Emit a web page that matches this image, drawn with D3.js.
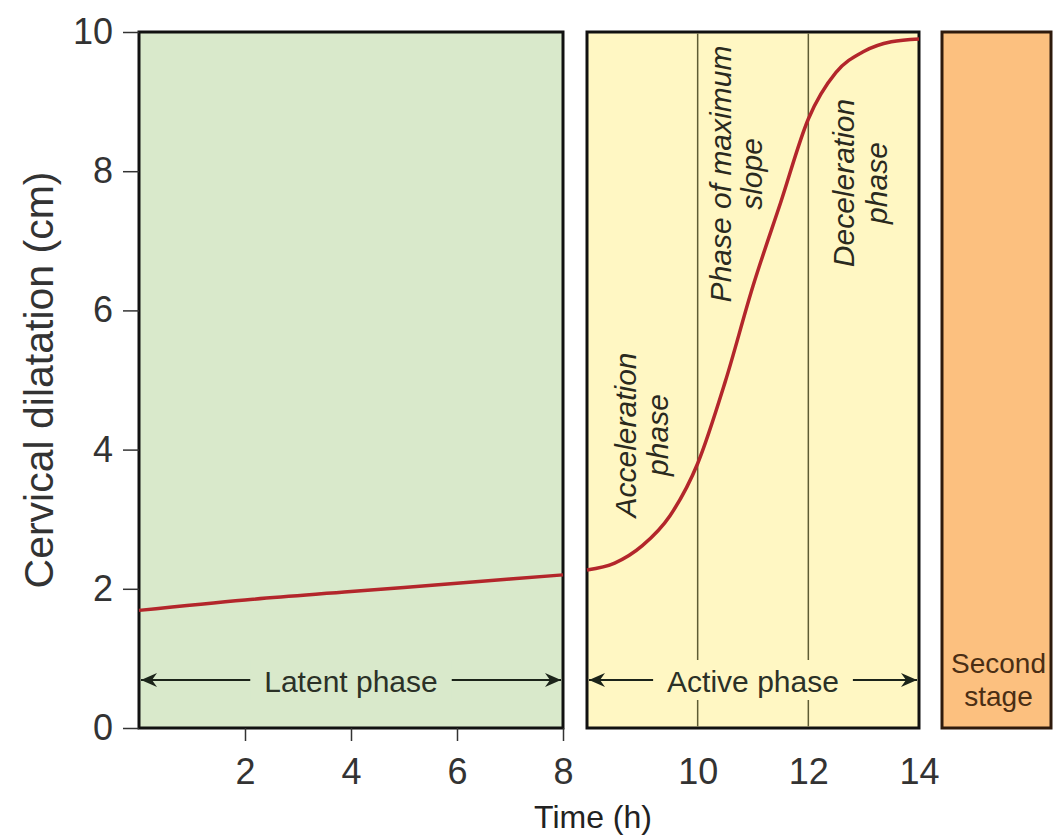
<!DOCTYPE html>
<html>
<head>
<meta charset="utf-8">
<script src="https://cdn.jsdelivr.net/npm/d3@7"></script>
<style>
  html, body { margin: 0; padding: 0; background: #fff; }
  svg { display: block; font-family: "Liberation Sans", Arial, Helvetica, sans-serif; }
</style>
</head>
<body>
<svg id="chart" width="1055" height="838"></svg>
<script>
// ---- data ----
const latentTime = [0, 2, 4, 6, 8];
const latentDilation = [1.69, 1.84, 1.96, 2.08, 2.20];
const activeTime = [8, 8.5, 9, 9.5, 10, 10.5, 11, 11.5, 12, 12.5, 13, 13.5, 14];
const activeDilation = [2.27, 2.37, 2.62, 3.05, 3.80, 4.98, 6.35, 7.55, 8.75, 9.42, 9.72, 9.86, 9.90];
const yTicks = [0, 2, 4, 6, 8, 10];
const latentTicks = [2, 4, 6, 8];
const activeTicks = [10, 12, 14];
const phaseBoundaries = [10, 12];
const subPhaseLabels = [
  { lines: ["Acceleration", "phase"], from: 8, to: 10 },
  { lines: ["Phase of maximum", "slope"], from: 10, to: 12 },
  { lines: ["Deceleration", "phase"], from: 12, to: 14 }
];
const stageLabels = ["Latent phase", "Active phase"];
const secondStageLabel = ["Second", "stage"];
const yTitle = "Cervical dilatation (cm)";
const xTitle = "Time (h)";

// ---- layout ----
const svg = d3.select("#chart");
const plotTop = 32, plotBottom = 728;
const y = d3.scaleLinear().domain([0, 10]).range([plotBottom, plotTop]);
const xLatent = d3.scaleLinear().domain([0, 8]).range([139, 563]);
const xActive = d3.scaleLinear().domain([8, 14]).range([587, 919]);
const secondX0 = 942, secondX1 = 1051;

const green = "#d9e9cb", yellow = "#fff7c3", orange = "#fcc07f";
const fontFam = '"Liberation Sans", Arial, Helvetica, sans-serif';

// panels
function panel(x0, x1, fill, stroke) {
  svg.append("rect")
    .attr("x", x0).attr("y", plotTop)
    .attr("width", x1 - x0).attr("height", plotBottom - plotTop)
    .attr("fill", fill).attr("stroke", stroke).attr("stroke-width", 3);
}
panel(xLatent(0), xLatent(8), green, "#111");
panel(xActive(8), xActive(14), yellow, "#111");
panel(secondX0, secondX1, orange, "#2e1a0c");

// phase boundaries
svg.selectAll("line.phase").data(phaseBoundaries).enter().append("line")
  .attr("class", "phase")
  .attr("x1", d => xActive(d)).attr("x2", d => xActive(d))
  .attr("y1", plotTop + 1.5).attr("y2", plotBottom - 1.5)
  .attr("stroke", "#5e5c34").attr("stroke-width", 1.5);

// curves
const line = (xs) => d3.line().x(d => xs(d[0])).y(d => y(d[1])).curve(d3.curveMonotoneX);
const curveColor = "#b3262b";
svg.append("path")
  .datum(latentTime.map((t, i) => [t, latentDilation[i]]))
  .attr("d", line(xLatent)).attr("fill", "none")
  .attr("stroke", curveColor).attr("stroke-width", 3.5);
svg.append("path")
  .datum(activeTime.map((t, i) => [t, activeDilation[i]]))
  .attr("d", line(xActive)).attr("fill", "none")
  .attr("stroke", curveColor).attr("stroke-width", 3.5);

// sub-phase rotated labels
const rotPos = [
  { cy: 435, base: [636, 668] },
  { cy: 174, base: [731, 762] },
  { cy: 183, base: [854, 887] }
];
subPhaseLabels.forEach((p, i) => {
  p.lines.forEach((txt, j) => {
    svg.append("text")
      .attr("transform", `translate(${rotPos[i].base[j]},${rotPos[i].cy}) rotate(-90)`)
      .attr("text-anchor", "middle")
      .attr("font-style", "italic")
      .attr("font-size", 30)
      .attr("fill", "#2a2a1e")
      .text(txt);
  });
});

// stage arrows
const arrowY = 680;
function stageArrow(x0, x1, label, fill) {
  const g = svg.append("g");
  g.append("line").attr("x1", x0 + 2).attr("x2", x1 - 2)
    .attr("y1", arrowY).attr("y2", arrowY)
    .attr("stroke", "#1c241a").attr("stroke-width", 2);
  g.append("path").attr("d", `M${x0 + 2},${arrowY} l16,-7 l-5,7 l5,7 Z`).attr("fill", "#1c241a");
  g.append("path").attr("d", `M${x1 - 2},${arrowY} l-16,-7 l5,7 l-5,7 Z`).attr("fill", "#1c241a");
  const cx = (x0 + x1) / 2;
  const bg = g.append("rect").attr("fill", fill);
  const t = g.append("text").attr("x", cx).attr("y", arrowY + 12)
    .attr("text-anchor", "middle").attr("font-size", 30).attr("fill", "#2b3127")
    .text(label);
  const w = t.node().getComputedTextLength();
  bg.attr("x", cx - w / 2 - 14).attr("width", w + 28)
    .attr("y", arrowY - 20).attr("height", 40);
}
stageArrow(xLatent(0), xLatent(8), stageLabels[0], green);
stageArrow(xActive(8), xActive(14), stageLabels[1], yellow);

// second stage label
secondStageLabel.forEach((txt, j) => {
  svg.append("text")
    .attr("x", (secondX0 + secondX1) / 2 + 2)
    .attr("y", 673 + j * 33)
    .attr("text-anchor", "middle").attr("font-size", 28)
    .attr("fill", "#4a2e14").text(txt);
});

// axes
function styleAxis(g) {
  g.select(".domain").remove();
  g.selectAll(".tick line").attr("stroke", "#333").attr("stroke-width", 1.5);
  g.selectAll(".tick text").attr("fill", "#333").attr("font-size", 36).attr("font-family", fontFam);
}
svg.append("g").attr("transform", `translate(${xLatent(0)},0)`)
  .call(d3.axisLeft(y).tickValues(yTicks).tickSize(16).tickPadding(10).tickFormat(d3.format("d")))
  .call(styleAxis);
svg.append("g").attr("transform", `translate(0,${plotBottom})`)
  .call(d3.axisBottom(xLatent).tickValues(latentTicks).tickSize(13).tickPadding(17).tickFormat(d3.format("d")))
  .call(styleAxis);
svg.append("g").attr("transform", `translate(0,${plotBottom})`)
  .call(d3.axisBottom(xActive).tickValues(activeTicks).tickSize(0).tickPadding(30).tickFormat(d3.format("d")))
  .call(styleAxis);

// titles
svg.append("text")
  .attr("transform", `translate(53,380) rotate(-90)`)
  .attr("text-anchor", "middle").attr("font-size", 41).attr("fill", "#333")
  .text(yTitle);
svg.append("text")
  .attr("x", 593).attr("y", 828)
  .attr("text-anchor", "middle").attr("font-size", 32).attr("fill", "#222")
  .text(xTitle);
</script>
</body>
</html>
